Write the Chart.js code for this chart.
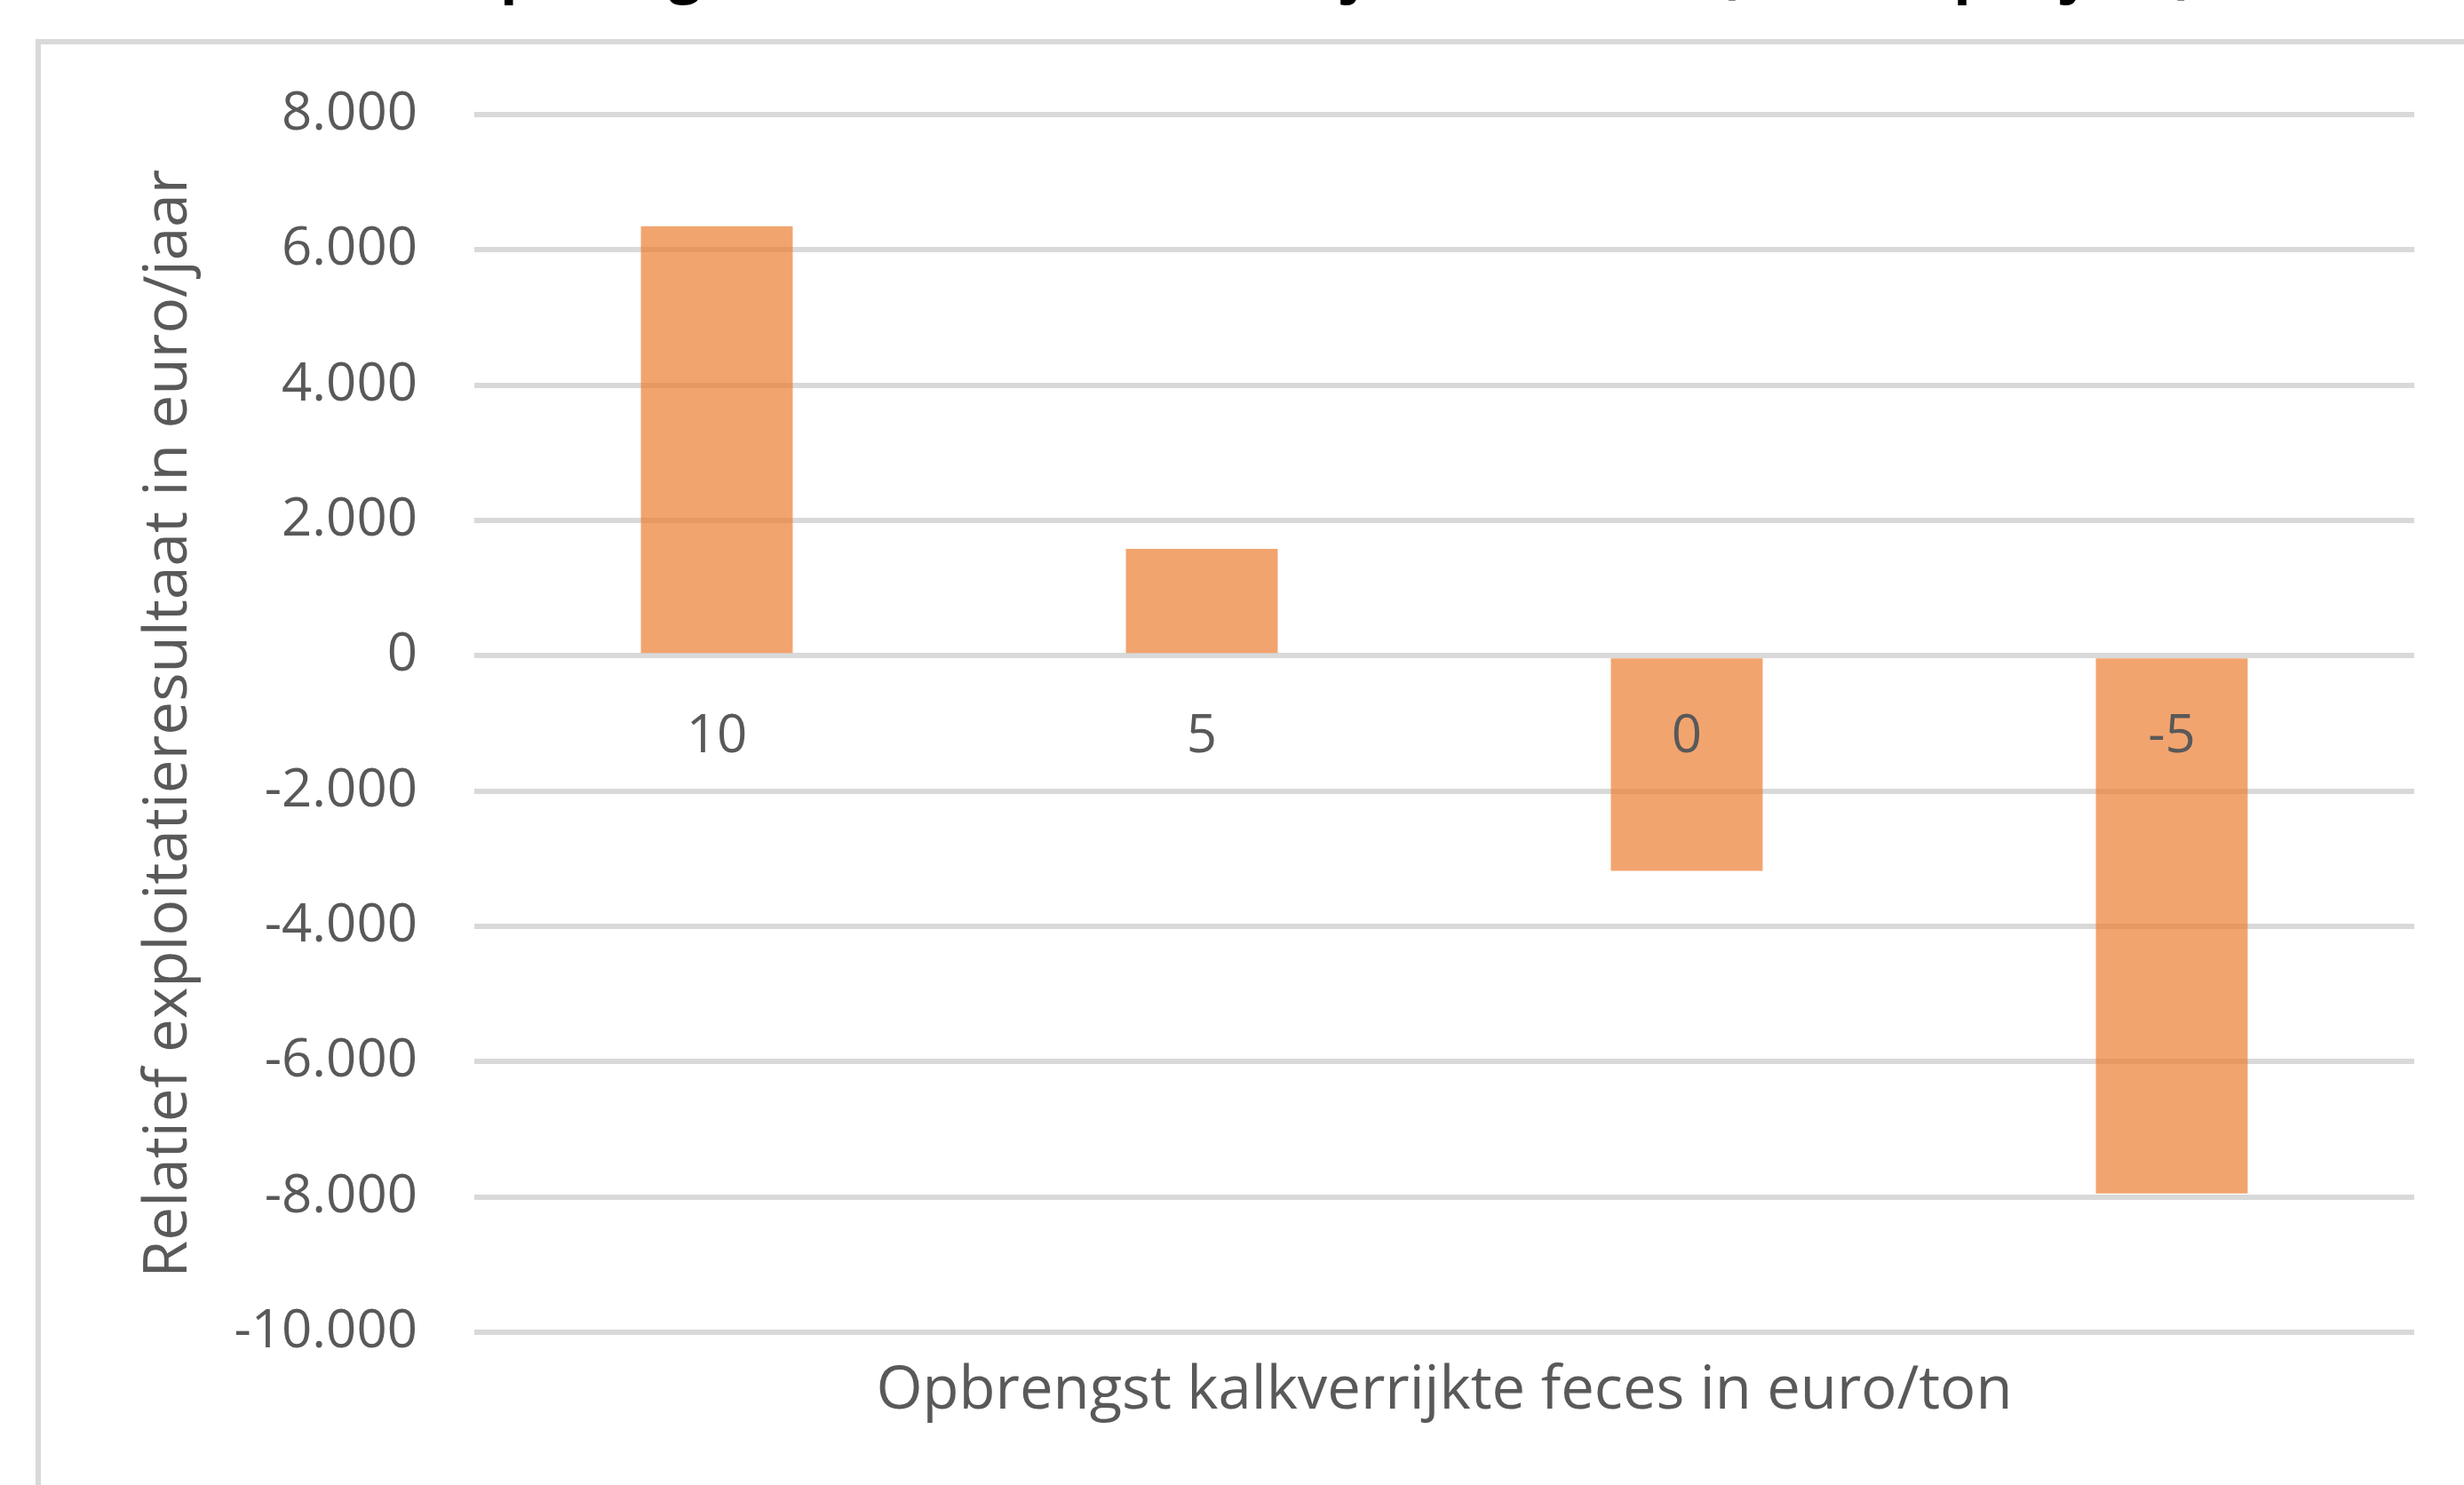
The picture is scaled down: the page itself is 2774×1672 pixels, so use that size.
<!DOCTYPE html>
<html lang="nl">
<head>
<meta charset="utf-8">
<title>Relatief exploitatieresultaat</title>
<script src="https://cdn.jsdelivr.net/npm/chart.js@4.4.1/dist/chart.umd.min.js"></script>
<style>
  html, body { margin: 0; padding: 0; background: #fff; overflow: hidden; }
  #wrap { position: relative; width: 2774px; height: 1672px; }
</style>
</head>
<body>
<div id="wrap"><canvas id="chart"></canvas></div>
<script>
  // categorieën: opbrengst in euro/ton
  const categories = ['10', '5', '0', '-5'];
  const resultaat = [6350, 1580, -3180, -7950];
  // y-as
  const yMin = -10000;
  const yMax = 8000;
  const yStep = 2000;

  const chartTitle = 'Opbrengst feces en resultaat bij totale afzet (in euro per jaar)';
  const xTitle = 'Opbrengst kalkverrijkte feces in euro/ton';
  const yTitle = 'Relatief exploitatieresultaat in euro/jaar';

  const textGrey = '#595959';
  const gridGrey = '#d9d9d9';
  const nl = new Intl.NumberFormat('nl-NL');

  const decor = {
    id: 'decor',
    beforeDraw(chart) {
      const ctx = chart.ctx;
      ctx.save();
      ctx.strokeStyle = gridGrey;
      ctx.lineWidth = 6;
      ctx.strokeRect(43, 47, 4000, 4000); // kader loopt buiten beeld door
      ctx.restore();
    },
    afterDraw(chart) {
      const { ctx, chartArea } = chart;
      ctx.save();
      // grafiektitel valt grotendeels buiten beeld, alleen de staarten zijn zichtbaar
      ctx.fillStyle = '#000';
      ctx.font = 'bold 64px "Open Sans"';
      ctx.textAlign = 'left';
      ctx.textBaseline = 'alphabetic';
      ctx.fillText(chartTitle, 512, -10);

      ctx.fillStyle = textGrey;
      ctx.font = '67px "Open Sans"';
      ctx.textAlign = 'center';
      ctx.textBaseline = 'middle';
      ctx.fillText(xTitle, (chartArea.left + chartArea.right) / 2, 1567);

      ctx.font = '67.5px "Open Sans"';
      ctx.translate(191, (chartArea.top + chartArea.bottom) / 2);
      ctx.rotate(-Math.PI / 2);
      ctx.fillText(yTitle, 0, 0);
      ctx.restore();
    }
  };

  new Chart(document.getElementById('chart'), {
    type: 'bar',
    data: {
      labels: categories,
      datasets: [{
        label: 'Resultaat',
        data: resultaat,
        backgroundColor: 'rgba(237, 125, 49, 0.7)',
        borderWidth: 0,
        categoryPercentage: 1,
        barPercentage: 0.313
      }]
    },
    options: {
      responsive: true,
      maintainAspectRatio: false,
      animation: false,
      devicePixelRatio: 1,
      layout: { padding: { top: 129, right: 56, bottom: 172, left: 0 } },
      plugins: {
        legend: { display: false },
        tooltip: { enabled: false },
        title: { display: false }
      },
      scales: {
        x: {
          position: { y: 0 },
          grid: { display: false, drawTicks: false },
          border: { display: false },
          ticks: {
            z: 1, // labels boven de staven
            color: textGrey,
            font: { family: 'Open Sans', size: 60 },
            padding: 56,
            maxRotation: 0,
            autoSkip: false
          }
        },
        y: {
          min: yMin,
          max: yMax,
          afterFit(scale) { scale.width = 534; },
          grid: { color: gridGrey, lineWidth: 6, drawTicks: false },
          border: { display: false },
          ticks: {
            stepSize: yStep,
            color: textGrey,
            font: { family: 'Open Sans', size: 60 },
            padding: 64,
            callback: (v) => nl.format(v)
          }
        }
      }
    },
    plugins: [decor]
  });
</script>
</body>
</html>
